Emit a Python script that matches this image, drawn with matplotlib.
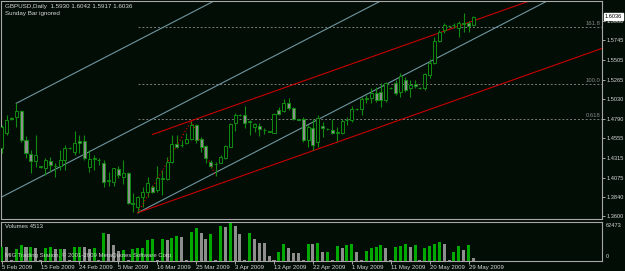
import numpy as np
import matplotlib.pyplot as plt

plt.rcParams['font.family'] = ['Liberation Sans', 'DejaVu Sans']

# daily bars, GBPUSD
opens = [1.4431, 1.4621, 1.4790, 1.4808, 1.4889, 1.4532, 1.4358, 1.4276, 1.4210, 1.4187,
         1.4280, 1.4219, 1.4215, 1.4288, 1.4435, 1.4389, 1.4523, 1.4520, 1.4199, 1.4305,
         1.4290, 1.4255, 1.4030, 1.4024, 1.4175, 1.4085, 1.4126, 1.3755, 1.3719, 1.3834,
         1.3902, 1.3956, 1.3923, 1.4060, 1.4053, 1.4267, 1.4483, 1.4465, 1.4492, 1.4544,
         1.4714, 1.4540, 1.4459, 1.4267, 1.4235, 1.4255, 1.4309, 1.4450, 1.4735, 1.4836,
         1.4836, 1.4752, 1.4694, 1.4702, 1.4657, 1.4633, 1.4621, 1.4897, 1.4889, 1.4986,
         1.4918, 1.4784, 1.4784, 1.4532, 1.4674, 1.4511, 1.4702, 1.4662, 1.4654, 1.4618,
         1.4621, 1.4772, 1.4775, 1.4906, 1.4906, 1.5035, 1.5040, 1.5108, 1.5120, 1.5019,
         1.5162, 1.5230, 1.5120, 1.5263, 1.5162, 1.5214, 1.5165, 1.5162, 1.5324, 1.5466,
         1.5741, 1.5872, 1.5920, 1.5930, 1.5892, 1.5950, 1.5961, 1.5930]
highs = [1.4714, 1.4836, 1.4816, 1.4979, 1.4897, 1.4581, 1.4410, 1.4593, 1.4220, 1.4309,
         1.4328, 1.4248, 1.4410, 1.4471, 1.4450, 1.4645, 1.4593, 1.4593, 1.4410, 1.4349,
         1.4312, 1.4288, 1.4146, 1.4190, 1.4215, 1.4288, 1.4146, 1.3890, 1.3845, 1.3956,
         1.4085, 1.3984, 1.4215, 1.4166, 1.4328, 1.4593, 1.4593, 1.4532, 1.4613, 1.4767,
         1.4727, 1.4565, 1.4471, 1.4288, 1.4267, 1.4349, 1.4471, 1.4735, 1.4857, 1.4850,
         1.4946, 1.4775, 1.4743, 1.4735, 1.4674, 1.4645, 1.4857, 1.4937, 1.5028, 1.5040,
         1.4930, 1.4790, 1.4808, 1.4714, 1.4784, 1.4836, 1.4755, 1.4672, 1.4784, 1.4694,
         1.4784, 1.4808, 1.4946, 1.4918, 1.5059, 1.5080, 1.5162, 1.5174, 1.5222, 1.5242,
         1.5180, 1.5263, 1.5344, 1.5299, 1.5263, 1.5263, 1.5175, 1.5344, 1.5515, 1.5790,
         1.5872, 1.5953, 1.5932, 1.5957, 1.5985, 1.6075, 1.5985, 1.6042]
lows = [1.4373, 1.4593, 1.4775, 1.4694, 1.4511, 1.4309, 1.4126, 1.4207, 1.4195, 1.4105,
        1.4146, 1.4085, 1.4166, 1.4166, 1.4425, 1.4349, 1.4370, 1.4288, 1.4146, 1.4166,
        1.4227, 1.3963, 1.3971, 1.3971, 1.4065, 1.3996, 1.3752, 1.3658, 1.3646, 1.3719,
        1.3834, 1.3890, 1.3902, 1.3862, 1.4045, 1.4248, 1.4431, 1.4443, 1.4483, 1.4532,
        1.4499, 1.4389, 1.4248, 1.4187, 1.4093, 1.4248, 1.4297, 1.4443, 1.4645, 1.4825,
        1.4674, 1.4593, 1.4633, 1.4581, 1.4605, 1.4625, 1.4618, 1.4836, 1.4876, 1.4897,
        1.4775, 1.4775, 1.4511, 1.4450, 1.4410, 1.4450, 1.4572, 1.4655, 1.4605, 1.4523,
        1.4605, 1.4714, 1.4755, 1.4900, 1.4836, 1.4986, 1.4979, 1.4998, 1.4937, 1.4998,
        1.5155, 1.5080, 1.5059, 1.5116, 1.5059, 1.5165, 1.5158, 1.5141, 1.5283, 1.5457,
        1.5729, 1.5831, 1.5915, 1.5896, 1.5790, 1.5851, 1.5851, 1.5917]
closes = [1.4694, 1.4775, 1.4798, 1.4889, 1.4532, 1.4370, 1.4276, 1.4349, 1.4205, 1.4288,
          1.4224, 1.4212, 1.4288, 1.4431, 1.4440, 1.4492, 1.4492, 1.4309, 1.4297, 1.4312,
          1.4285, 1.4024, 1.4040, 1.4187, 1.4105, 1.4126, 1.3761, 1.3765, 1.3841, 1.3902,
          1.4004, 1.3902, 1.4065, 1.4068, 1.4267, 1.4483, 1.4443, 1.4470, 1.4544, 1.4714,
          1.4532, 1.4443, 1.4309, 1.4215, 1.4240, 1.4321, 1.4459, 1.4727, 1.4836, 1.4840,
          1.4735, 1.4758, 1.4727, 1.4662, 1.4650, 1.4636, 1.4848, 1.4848, 1.4986, 1.4918,
          1.4784, 1.4780, 1.4532, 1.4686, 1.4471, 1.4796, 1.4674, 1.4665, 1.4613, 1.4625,
          1.4767, 1.4778, 1.4906, 1.4910, 1.5028, 1.5042, 1.5108, 1.5019, 1.5019, 1.5222,
          1.5168, 1.5108, 1.5311, 1.5141, 1.5202, 1.5190, 1.5168, 1.5336, 1.5473, 1.5741,
          1.5851, 1.5933, 1.5925, 1.5935, 1.5953, 1.5957, 1.5920, 1.6036]
volumes = [23500, 22400, 1500, 19800, 26800, 22400, 23500, 21400, 1200, 21400,
           22400, 19800, 20300, 20000, 1300, 22400, 22900, 22400, 19800, 21400,
           1400, 46250, 45100, 26200, 17000, 17500, 1500, 19800, 21400, 21600,
           35400, 35800, 1300, 36000, 35400, 38700, 40850, 40300, 1200, 47870,
           54900, 46250, 36000, 45100, 1400, 57600, 56000, 62473, 58700, 45100,
           1300, 45700, 36000, 30000, 29500, 8900, 1000, 15400, 27850, 20800,
           13250, 12700, 1200, 28930, 27850, 30000, 14800, 15400, 1300, 25150,
           20800, 26770, 28930, 14330, 1100, 17000, 21900, 23500, 26770, 21900,
           1200, 23500, 24300, 28930, 23500, 26770, 1300, 20800, 25150, 27850,
           31650, 27850, 1400, 14330, 25150, 18200, 26770, 4513]

date_labels = ['5 Feb 2009', '15 Feb 2009', '24 Feb 2009', '5 Mar 2009', '16 Mar 2009',
               '25 Mar 2009', '3 Apr 2009', '13 Apr 2009', '22 Apr 2009', '1 May 2009',
               '11 May 2009', '20 May 2009', '29 May 2009']
price_ticks = [1.3600, 1.3840, 1.4075, 1.4315, 1.4555, 1.4790, 1.5030, 1.5265,
               1.5505, 1.5745, 1.5980]

# drawing objects
fib_levels = [0.618, 1.0, 1.618]
fib_names = ['0.618', '100.0', '161.8']
fib_a, fib_b, fib_c = 28, 39, 44          # bars of the expansion points
fork_pivot = (-12, 1.3470)                # Andrews pitchfork, pivot off-screen
fork_bars = (3, 28)
red_p2 = (97, 1.5093)                     # second point of the red channel base
red_start = 31

opens, highs, lows, closes = map(np.array, (opens, highs, lows, closes))
volumes = np.array(volumes)
n = len(closes)
idx = np.arange(n)

BG = '#020d05'
FG = '#d8d8d8'
FRAME = '#a8a8a8'
WICK = '#108c10'
BEAR = '#8e8e8e'

W, H = 625, 271
fig = plt.figure(figsize=(W / 100, H / 100), dpi=100, facecolor=BG)
ax = fig.add_axes([1 / W, 1 - 218.5 / H, 601 / W, 217.5 / H], facecolor=BG)
axv = fig.add_axes([1 / W, 1 - 261 / H, 601 / W, 39.5 / H], facecolor=BG)

xmin, xmax = -0.14, 123.45
ax.set_xlim(xmin, xmax)
ax.set_ylim(1.35756, 1.62249)
axv.set_xlim(xmin, xmax)
axv.set_ylim(0, 65450)

# channels / pitchfork
mid_b = np.mean(fork_bars)
mid_p = (highs[fork_bars[0]] + lows[fork_bars[1]]) / 2
k = (mid_p - fork_pivot[1]) / (mid_b - fork_pivot[0])
grey = '#6f96a2'
ax.plot([fork_pivot[0], 130], [fork_pivot[1], fork_pivot[1] + k * (130 - fork_pivot[0])],
        color=grey, lw=0.8, zorder=2)
for b, p in [(fork_bars[0], highs[fork_bars[0]]), (fork_bars[1], lows[fork_bars[1]])]:
    ax.plot([b, 130], [p, p + k * (130 - b)], color=grey, lw=0.8, zorder=2)

kr = (red_p2[1] - lows[fib_a]) / (red_p2[0] - fib_a)
red = '#c80000'
ax.plot([fib_a, 130], [lows[fib_a], lows[fib_a] + kr * (130 - fib_a)], color=red, lw=0.8, zorder=2)
ub = highs[fib_b] + kr * (red_start - fib_b)
ax.plot([red_start, 130], [ub, ub + kr * (130 - red_start)], color=red, lw=0.8, zorder=2)

# fibonacci expansion
rng = highs[fib_b] - lows[fib_a]
ax.plot([fib_a, fib_b, fib_c], [lows[fib_a], highs[fib_b], lows[fib_c]],
        color='#e00000', lw=0.8, ls=(0, (1, 2)), zorder=4)
for lv, name in zip(fib_levels, fib_names):
    y = lows[fib_c] + lv * rng
    ax.plot([fib_a, 130], [y, y], color='#7c7c7c', lw=0.7, ls=(0, (2, 2)), zorder=1)
    ax.text(xmax - 0.3, y + 0.0010, name, color='#8a8a8a', fontsize=4.2,
            ha='right', va='bottom', zorder=6)

# candles
up = closes >= opens
ax.vlines(idx, lows, highs, color=WICK, lw=0.8, zorder=3)
body = np.maximum(np.abs(closes - opens), 0.0004)
bottom = np.minimum(opens, closes)
ax.bar(idx, body, 0.62, bottom, color=np.where(up, BG, BEAR), edgecolor=WICK,
       linewidth=0.7, zorder=5)

# volumes
vcol = ['#00a800'] + ['#00a800' if volumes[i] > volumes[i - 1] else BEAR for i in range(1, n)]
axv.bar(idx, volumes, 0.62, color=vcol, linewidth=0, zorder=3)

for a in (ax, axv):
    for s in a.spines.values():
        s.set_color(FRAME)
        s.set_linewidth(0.8)

ax.yaxis.tick_right()
ax.set_yticks(price_ticks)
ax.set_yticklabels([f'{p:.4f}' for p in price_ticks])
ax.tick_params(axis='y', colors=FRAME, labelcolor=FG, labelsize=4.1, length=2.2, width=0.7, pad=1.2)
ax.set_xticks([])

ax.text(xmax + 0.6, closes[-1], f'{closes[-1]:.4f}', fontsize=4.1,
        color='black', va='center', ha='left', clip_on=False, zorder=10,
        bbox=dict(boxstyle='square,pad=0.12', fc='white', ec='white'))

axv.set_yticks([])
axv.set_xticks(idx[::8][:len(date_labels)])
axv.set_xticklabels(date_labels, ha='left')
axv.tick_params(axis='x', colors=FRAME, labelcolor=FG, labelsize=4.3, length=2.2, width=0.7, pad=1)
axv.text(1.006, 0.95, f'{volumes.max()}', transform=axv.transAxes, fontsize=4.1,
         color=FG, va='top', ha='left')
axv.text(1.006, 0.06, '0', transform=axv.transAxes, fontsize=4.1, color=FG,
         va='bottom', ha='left')

ax.text(0.006, 0.988, 'GBPUSD,Daily  %.4f %.4f %.4f %.4f' % (opens[-1], highs[-1], lows[-1], closes[-1]),
        transform=ax.transAxes, fontsize=4.5, color=FG, va='top', ha='left')
ax.text(0.006, 0.952, 'Sunday Bar ignored', transform=ax.transAxes, fontsize=4.5,
        color=FG, va='top', ha='left')
axv.text(0.006, 0.93, f'Volumes {volumes[-1]}', transform=axv.transAxes, fontsize=4.3,
         color=FG, va='top', ha='left')
axv.text(0.006, 0.08, 'MIG Trading Station, \u00a9 2001-2009 MetaQuotes Software Corp.',
         transform=axv.transAxes, fontsize=4.3, color=FG, va='bottom', ha='left', zorder=5)

fig.savefig('out.png', dpi=100, facecolor=BG)
